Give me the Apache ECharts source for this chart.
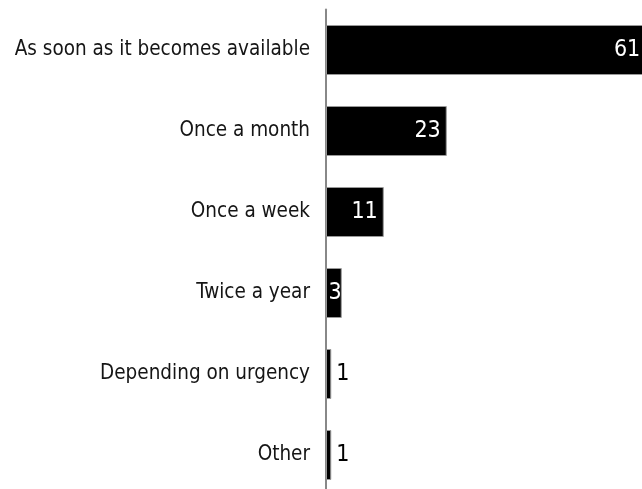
<!DOCTYPE html>
<html>
<head>
<meta charset="utf-8">
<style>
  html, body { margin: 0; padding: 0; background: #fff; }
  #chart { width: 642px; height: 489px; }
</style>
<script src="https://cdn.jsdelivr.net/npm/echarts@6/dist/echarts.min.js"></script>
</head>
<body>
<div id="chart"></div>
<script>
// Update frequency answers and their counts
const categories = [
  'As soon as it becomes available',
  'Once a month',
  'Once a week',
  'Twice a year',
  'Depending on urgency',
  'Other'
];
const counts = [61, 23, 11, 3, 1, 1];

const FONT = "'Liberation Sans Narrow', 'DejaVu Sans Condensed', 'Roboto Condensed', Roboto, sans-serif";

const chart = echarts.init(document.getElementById('chart'), null, { renderer: 'canvas' });

// Wide bars carry a white value inside their end; thin ones put it outside in black
const barData = counts.map(v => {
  const inside = v >= 3;
  return {
    value: v,
    label: inside
      ? { position: 'insideRight', distance: v < 5 ? 0 : 6, color: '#fff' }
      : { position: 'right', distance: 5, color: '#000' }
  };
});

chart.setOption({
  animation: false,
  grid: {
    left: 326, top: 9.5, height: 486, width: 325.5,
    containLabel: false, outerBoundsMode: 'none'
  },
  xAxis: {
    type: 'value', min: 0, max: 62, show: false
  },
  yAxis: {
    type: 'category',
    data: categories,
    inverse: true,
    axisLine: { show: true, lineStyle: { color: '#888', width: 2 } },
    axisTick: { show: false },
    splitLine: { show: false },
    axisLabel: { color: '#151515', fontSize: 20.5, fontFamily: FONT, margin: 16 }
  },
  series: [{
    type: 'bar',
    data: barData,
    barWidth: 50,
    clip: false,
    itemStyle: { color: '#000', borderColor: '#999', borderWidth: 1 },
    label: { show: true, fontSize: 23, fontFamily: FONT }
  }]
});
</script>
</body>
</html>
